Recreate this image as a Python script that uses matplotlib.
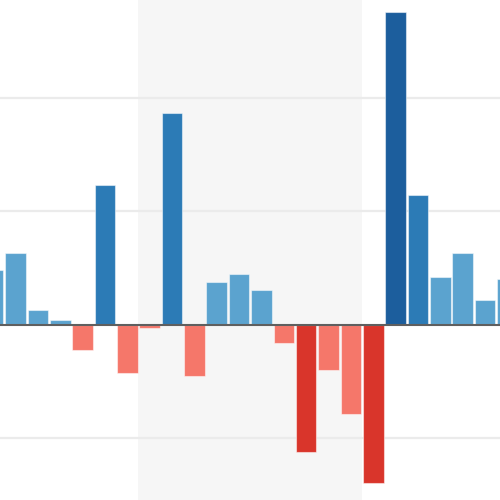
import numpy as np
import matplotlib
matplotlib.use("Agg")
import matplotlib.pyplot as plt

# bar values (units = one gridline step)
values = [0.48, 0.63, 0.13, 0.044, -0.22, 1.23, -0.42, -0.025, 1.87, -0.45,
          0.38, 0.45, 0.31, -0.156, -1.12, -0.40, -0.78, -1.39, 2.76, 1.145,
          0.425, 0.63, 0.22, 0.405]
shade_start = 6.5
shade_end = 16.5
gridlines = [-1, 1, 2]


def bar_color(v):
    if v >= 2:
        return '#1c5e9d'
    if v >= 1:
        return '#2c7bb6'
    if v >= 0:
        return '#5ba3cf'
    if v <= -1:
        return '#d9352b'
    return '#f5776a'


x = np.arange(len(values))
colors = [bar_color(v) for v in values]

fig = plt.figure(figsize=(5, 5), dpi=100)
ax = fig.add_axes([0, 0, 1, 1])

ax.axvspan(shade_start, shade_end, color='#f6f6f6', zorder=0, lw=0)
for g in gridlines:
    ax.axhline(g, color='#ebebeb', lw=1.6, zorder=1)

ax.bar(x, values, width=0.92, color=colors, edgecolor=(1, 1, 1, 0.5),
       linewidth=0.8, zorder=2)
ax.axhline(0, color='#5f5f5f', lw=1.5, zorder=3)

ax.set_xlim(0.307, 22.667)
ax.set_ylim(-1.542, 2.863)
ax.axis('off')

fig.savefig('out.png', dpi=100)
